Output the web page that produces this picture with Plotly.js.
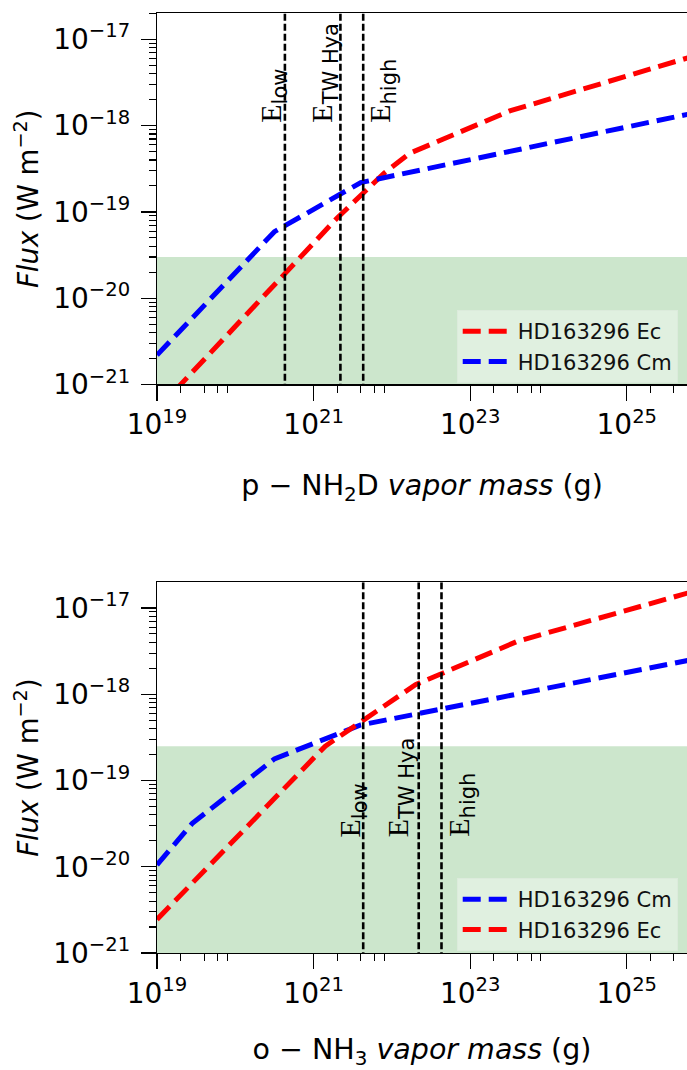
<!DOCTYPE html>
<html><head><meta charset="utf-8">
<script src="https://cdn.plot.ly/plotly-3.0.1.min.js"></script>
<style>html,body{margin:0;padding:0;background:#fff;}</style>
</head><body><div id="chart" style="width:687px;height:1070px;"></div>
<script>
// ---- data ----
const seriesEc = 'HD163296 Ec';
const seriesCm = 'HD163296 Cm';
const topMassEc = [1e19, 2.0e21, 7.9e21, 1.7e22, 3.2e23, 1e26];
const topFluxEc = [5.1e-22, 8.5e-20, 2.8e-19, 4.8e-19, 1.48e-18, 7.0e-18];
const topMassCm = [1e19, 3.16e20, 4.0e21, 1e26];
const topFluxCm = [2.19e-21, 5.9e-20, 2.19e-19, 1.49e-18];
const botMassCm = [1e19, 2.8e19, 3.16e20, 4.0e21, 1e26];
const botFluxCm = [1.05e-20, 3.16e-20, 1.78e-19, 4.4e-19, 2.7e-18];
const botMassEc = [1e19, 1.41e21, 2.0e22, 4.0e23, 1e26];
const botFluxEc = [2.45e-21, 2.5e-19, 1.29e-18, 4.1e-18, 1.7e-17];
const topLines = [4.3e20, 2.2e21, 4.3e21];
const botLines = [4.3e21, 2.2e22, 4.3e22];
const lineLabels = ['low', 'TW Hya', 'high'];
const topLabelMass = [1.7e20, 7.6e20, 4.2e21];
const botLabelMass = [1.74e21, 7.1e21, 4.2e22];
const topLimit = 3.0e-20;
const botLimit = 2.5e-19;
const topLabelFlux = 1.06e-18;
const botLabelFlux = 2.15e-20;
const xTickVals = [1e19, 1e21, 1e23, 1e25];
const xTickText = ['10<sup>19</sup>', '10<sup>21</sup>', '10<sup>23</sup>', '10<sup>25</sup>'];
const yTickVals = [1e-21, 1e-20, 1e-19, 1e-18, 1e-17];
const yTickText = ['10<sup>−21</sup>', '10<sup>−20</sup>', '10<sup>−19</sup>', '10<sup>−18</sup>', '10<sup>−17</sup>'];
const topXTitle = 'p − NH<sub>2</sub>D <i>vapor mass</i> (g)';
const botXTitle = 'o − NH<sub>3</sub> <i>vapor mass</i> (g)';
const yTitle = '<i>Flux</i> (W m<sup>−2</sup>)';

// ---- styling helpers ----
const FONT = 'DejaVu Sans, sans-serif';
const xRange = [19, 25.769];
const yRangeTop = [-21, -16.695];
const yRangeBot = [-21, -16.702];
const xMinor = [];
[19, 21, 23, 25].forEach(e => [2, 4, 6, 8].forEach(m => xMinor.push(m * Math.pow(10, e))));
const yMinor = [];
[-21, -20, -19, -18, -17].forEach(e => [2,3,4,5,6,7,8,9].forEach(m => yMinor.push(m * Math.pow(10, e))));

function xaxis(domainAnchor, title) {
  return {
    type: 'log', range: xRange, anchor: domainAnchor,
    tickmode: 'array', tickvals: xTickVals, ticktext: xTickText,
    ticks: 'outside', ticklen: 15, tickwidth: 1.2, tickcolor: '#000',
    minor: {tickmode: 'array', tickvals: xMinor, ticks: 'outside', ticklen: 7, tickwidth: 1.1, tickcolor: '#000'},
    showline: true, linecolor: '#000', linewidth: 1.2, mirror: true,
    showgrid: false, zeroline: false,
    tickfont: {family: FONT, size: 28, color: '#000'},
    title: {text: title, font: {family: FONT, size: 28.5, color: '#000'}, standoff: 34},
    automargin: false
  };
}
function yaxis(domain, range, xAnchor) {
  return {
    type: 'log', range: range, domain: domain, anchor: xAnchor,
    tickmode: 'array', tickvals: yTickVals, ticktext: yTickText,
    ticks: 'outside', ticklen: 15, tickwidth: 1.2, tickcolor: '#000',
    ticklabelstandoff: 5,
    minor: {tickmode: 'array', tickvals: yMinor, ticks: 'outside', ticklen: 7, tickwidth: 1.1, tickcolor: '#000'},
    showline: true, linecolor: '#000', linewidth: 1.2, mirror: false,
    showgrid: false, zeroline: false,
    tickfont: {family: FONT, size: 28, color: '#000'},
    title: {text: yTitle, font: {family: FONT, size: 27.5, color: '#000'}, standoff: 6},
    automargin: false
  };
}

const dashStyle = '18px,8px';
const traces = [];
function curve(x, y, name, color, xa, ya, legend) {
  traces.push({x: x, y: y, name: name, type: 'scatter', mode: 'lines',
    xaxis: xa, yaxis: ya, legend: legend,
    line: {color: color, width: 5, dash: dashStyle}});
}
curve(topMassEc, topFluxEc, seriesEc, '#ff0000', 'x', 'y', 'legend');
curve(topMassCm, topFluxCm, seriesCm, '#0000ff', 'x', 'y', 'legend');
curve(botMassCm, botFluxCm, seriesCm, '#0000ff', 'x2', 'y2', 'legend2');
curve(botMassEc, botFluxEc, seriesEc, '#ff0000', 'x2', 'y2', 'legend2');

function vlines(vals, xa, ya) {
  vals.forEach(v => traces.push({x: [v, v], y: [1e-22, 1e-16], type: 'scatter', mode: 'lines',
    xaxis: xa, yaxis: ya, showlegend: false, hoverinfo: 'skip',
    line: {color: '#000', width: 2.6, dash: '7px,3px'}}));
}
vlines(topLines, 'x', 'y');
vlines(botLines, 'x2', 'y2');

const annotations = [];
function labels(xs, fluxY, xa, ya) {
  xs.forEach((v, i) => annotations.push({
    x: Math.log10(v), y: Math.log10(fluxY), xref: xa, yref: ya,
    text: 'E<sub><span style="font-family:DejaVu Sans">' + lineLabels[i] + '</span></sub>',
    textangle: -90, showarrow: false, xanchor: 'left', yanchor: 'bottom',
    font: {family: 'Liberation Serif, serif', size: 30, color: '#000'}, borderpad: 0
  }));
}
labels(topLabelMass, topLabelFlux, 'x', 'y');
labels(botLabelMass, botLabelFlux, 'x2', 'y2');

const shapes = [
  {type: 'rect', xref: 'x domain', yref: 'y', x0: 0, x1: 1, y0: 1e-21, y1: topLimit,
   fillcolor: 'rgba(0,128,0,0.2)', line: {width: 0}, layer: 'below'},
  {type: 'rect', xref: 'x2 domain', yref: 'y2', x0: 0, x1: 1, y0: 1e-21, y1: botLimit,
   fillcolor: 'rgba(0,128,0,0.2)', line: {width: 0}, layer: 'below'}
];

const legendStyle = {
  xref: 'paper', yref: 'paper', xanchor: 'left', yanchor: 'top',
  bgcolor: 'rgba(255,255,255,0.4)', bordercolor: 'rgba(220,235,220,1)', borderwidth: 1,
  font: {family: FONT, size: 21, color: '#111'}, itemwidth: 50
};

const layout = {
  width: 687, height: 1070,
  margin: {l: 157, r: 0, t: 13, b: 117, pad: 0},
  paper_bgcolor: '#fff', plot_bgcolor: '#fff',
  showlegend: true,
  xaxis: xaxis('y', topXTitle),
  yaxis: yaxis([0.6048, 1], yRangeTop, 'x'),
  xaxis2: xaxis('y2', botXTitle),
  yaxis2: yaxis([0, 0.3944], yRangeBot, 'x2'),
  legend: Object.assign({x: 0.5655, y: 0.684}, legendStyle),
  legend2: Object.assign({x: 0.5655, y: 0.0798}, legendStyle),
  shapes: shapes,
  annotations: annotations
};
Plotly.newPlot('chart', traces, layout, {displayModeBar: false, staticPlot: true});
</script></body></html>
